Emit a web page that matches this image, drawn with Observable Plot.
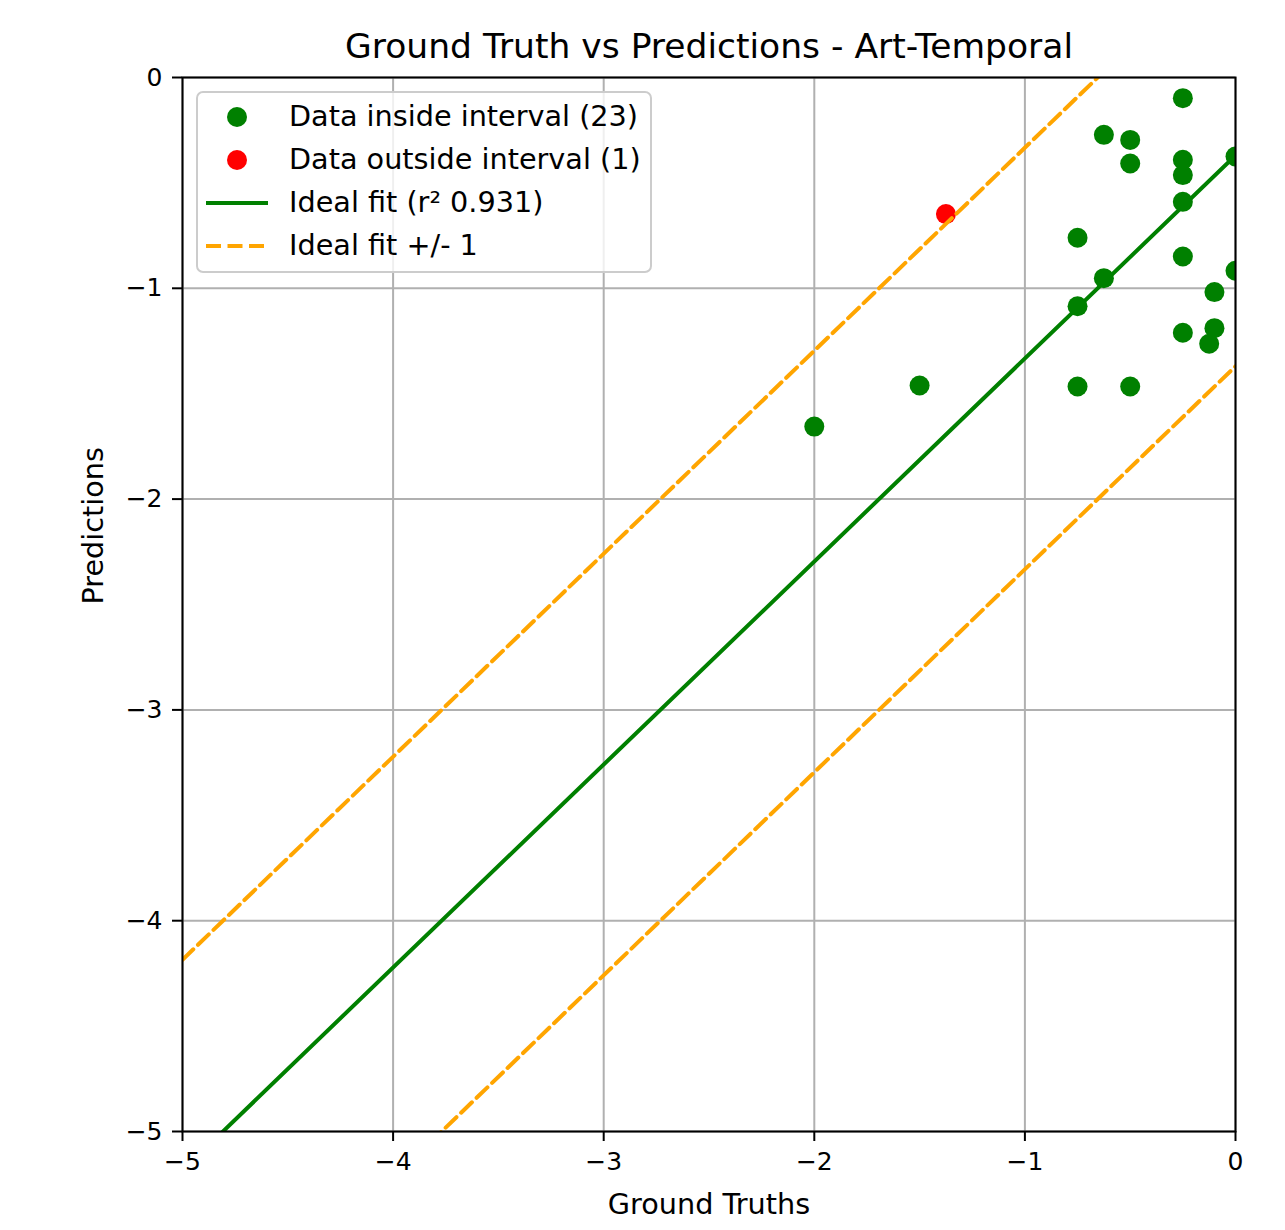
<!DOCTYPE html>
<html>
<head>
<meta charset="utf-8">
<script src="https://cdn.jsdelivr.net/npm/d3@7"></script>
<script src="https://cdn.jsdelivr.net/npm/@observablehq/plot@0.6"></script>
<style>
  body { margin: 0; background: white; }
  svg { font-family: "DejaVu Sans", sans-serif; overflow: visible; }
</style>
</head>
<body>
<div id="chart"></div>
<script>
// ---- data ----
const xTicks = [-5, -4, -3, -2, -1, 0];
const yTicks = [-5, -4, -3, -2, -1, 0];
const insideX = [-0.25, -0.625, -0.5, -0.5, -0.25, -0.25, -0.25, 0, -0.75, -0.25, 0, -0.625, -0.75, -0.1, -0.1, -0.125, -0.25, -0.75, -0.5, -1.5, -2];
const insideY = [-0.098, -0.272, -0.296, -0.408, -0.39, -0.463, -0.59, -0.375, -0.76, -0.849, -0.917, -0.952, -1.085, -1.018, -1.189, -1.263, -1.211, -1.466, -1.466, -1.461, -1.656];
const outsideX = [-1.375];
const outsideY = [-0.648];
const fitIntercept = -0.37;
const fitSlope = 0.963;
const bandWidth = 1;
const lineX = [-5, 0];
const titleText = "Ground Truth vs Predictions - Art-Temporal";
const xLabel = "Ground Truths";
const yLabel = "Predictions";
const legendLabels = ["Data inside interval (23)", "Data outside interval (1)", "Ideal fit (r\u00b2 0.931)", "Ideal fit +/- 1"];

// ---- derived tables ----
const inside = insideX.map((x, i) => ({x, y: insideY[i]}));
const outside = outsideX.map((x, i) => ({x, y: outsideY[i]}));
const fit = lineX.map(x => ({x, y: fitIntercept + fitSlope * x}));
const upper = fit.map(d => ({x: d.x, y: d.y + bandWidth}));
const lower = fit.map(d => ({x: d.x, y: d.y - bandWidth}));
const fmt = d => d < 0 ? "\u2212" + Math.abs(d) : String(d);

const plot = Plot.plot({
  width: 1285,
  height: 1230,
  marginTop: 77,
  marginRight: 50,
  marginBottom: 99,
  marginLeft: 182,
  style: {fontFamily: "'DejaVu Sans', sans-serif", fontSize: "25px", color: "black", background: "white"},
  x: {domain: [-5, 0]},
  y: {domain: [-5, 0]},
  marks: [
    Plot.gridX(xTicks, {stroke: "#b0b0b0", strokeOpacity: 1, strokeWidth: 2}),
    Plot.gridY(yTicks, {stroke: "#b0b0b0", strokeOpacity: 1, strokeWidth: 2}),
    Plot.dot(inside, {x: "x", y: "y", r: 10, fill: "green", clip: true}),
    Plot.dot(outside, {x: "x", y: "y", r: 10, fill: "red", clip: true}),
    Plot.line(fit, {x: "x", y: "y", stroke: "green", strokeWidth: 4, clip: true}),
    Plot.line(upper, {x: "x", y: "y", stroke: "orange", strokeWidth: 4, strokeDasharray: "15,6.5", clip: true}),
    Plot.line(lower, {x: "x", y: "y", stroke: "orange", strokeWidth: 4, strokeDasharray: "15,6.5", clip: true}),
    Plot.frame({stroke: "black", strokeWidth: 2}),
    Plot.axisX(xTicks, {tickSize: 10, tickPadding: 11, fontSize: 25, tickFormat: fmt, strokeWidth: 2, label: null}),
    Plot.axisY(yTicks, {tickSize: 10, tickPadding: 10, fontSize: 25, tickFormat: fmt, strokeWidth: 2, label: null}),
    Plot.text([titleText], {frameAnchor: "top", lineAnchor: "middle", dy: -31, fontSize: 34.5, fill: "black", text: d => d}),
    Plot.text([xLabel], {frameAnchor: "bottom", lineAnchor: "middle", dy: 73, fontSize: 28.7, fill: "black", text: d => d}),
    Plot.text([yLabel], {frameAnchor: "left", lineAnchor: "middle", dx: -89, rotate: -90, fontSize: 28.7, fill: "black", text: d => d})
  ]
});
document.getElementById("chart").appendChild(plot);

// ---- legend (matplotlib style box) ----
const svg = d3.select(plot);
const lg = svg.append("g").attr("font-family", "'DejaVu Sans', sans-serif").attr("font-size", 28.7).attr("text-anchor", "start");
lg.append("rect")
  .attr("x", 197).attr("y", 92).attr("width", 454).attr("height", 180)
  .attr("rx", 6).attr("ry", 6)
  .attr("fill", "white").attr("fill-opacity", 0.8)
  .attr("stroke", "#cccccc").attr("stroke-width", 2);
const rowY = [117, 160, 203, 246];
lg.append("circle").attr("cx", 237).attr("cy", rowY[0]).attr("r", 10).attr("fill", "green");
lg.append("circle").attr("cx", 237).attr("cy", rowY[1]).attr("r", 10).attr("fill", "red");
lg.append("line").attr("x1", 206).attr("x2", 268).attr("y1", rowY[2]).attr("y2", rowY[2])
  .attr("stroke", "green").attr("stroke-width", 4);
lg.append("line").attr("x1", 206).attr("x2", 268).attr("y1", rowY[3]).attr("y2", rowY[3])
  .attr("stroke", "orange").attr("stroke-width", 4).attr("stroke-dasharray", "15,6.5");
legendLabels.forEach((t, i) => {
  lg.append("text").attr("x", 289).attr("y", rowY[i] - 1).attr("dy", "0.35em").attr("fill", "black").text(t);
});
</script>
</body>
</html>
